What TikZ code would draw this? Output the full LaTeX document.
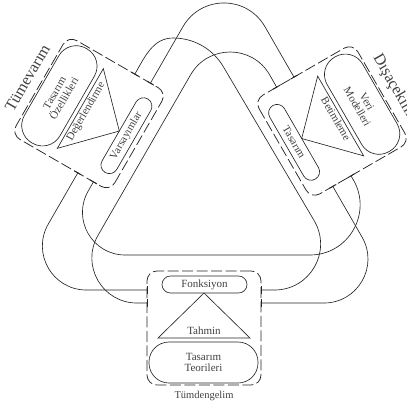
\documentclass[tikz,border=0pt]{standalone}
\usepackage{fontspec}
\setmainfont{Liberation Serif}

% One stage: dashed frame, small pill, triangle, large pill and outer label,
% drawn in the local frame of the enclosing scope.
\newcommand\stagebody[8]{%
  \node[stageframe, transform shape] (#1) at (0,0) {};
  \node[pill, transform shape, rotate=#2] (#1-top) at (0.5,-43.5) {#3};
  \draw[tri] (0,-35) -- (46,10) -- (-46,10) -- cycle;
  \node[tritext, transform shape, rotate=#2] (#1-mid) at (0,3.5) {#4};
  \node[bigpill, transform shape, rotate=#2] (#1-base) at (-0.5,34.5) {#5};
  \node[#7, transform shape, rotate=#2] (#1-label) at (0,#8) {#6};
}

\begin{document}
\begin{tikzpicture}[x=1pt,y=-1pt,
  wire/.style={line width=0.65pt, draw=black!85},
  stageframe/.style={draw=black!85, line width=0.75pt, dash pattern=on 11pt off 3.5pt,
    rounded corners=10pt, minimum width=114pt, minimum height=114pt, inner sep=0pt},
  pill/.style={draw=black!85, line width=0.65pt, rounded corners=8.5pt,
    minimum width=85pt, minimum height=17pt, inner sep=0pt,
    font=\fontsize{11}{12}\selectfont, text=black!75},
  bigpill/.style={draw=black!85, line width=0.65pt, rounded corners=20pt,
    minimum width=109pt, minimum height=41pt, inner sep=0pt, align=center,
    font=\fontsize{11}{11}\selectfont, text=black!75},
  tri/.style={draw=black!85, line width=0.65pt},
  tritext/.style={inner sep=0pt, text height=1.4ex, text depth=0.2ex,
    font=\fontsize{11}{12}\selectfont, text=black!75},
  biglabel/.style={inner sep=0pt, font=\fontsize{16}{17}\selectfont, text=black!75},
  smalllabel/.style={inner sep=0pt, font=\fontsize{10.5}{12}\selectfont, text=black!75},
  endtick/.style={line width=0.9pt, draw=black!85}]

\useasboundingbox (0,0) rectangle (407,405);

% Tümdengelim (bottom)
\begin{scope}[shift={(204,328)}]
  \stagebody{ded}{0}{Fonksiyon}{Tahmin}{Tasarım\\Teorileri}{Tümdengelim}{smalllabel}{68}
  \coordinate (ded-l1) at (-57,-38);
  \coordinate (ded-l2) at (-57,-25);
  \coordinate (ded-r1) at (57,-38);
  \coordinate (ded-r2) at (57,-25);
  \foreach \px/\py in {-57/-38,-57/-25,57/-38,57/-25}
    \draw[endtick] (\px,\py-4) -- (\px,\py+4);
\end{scope}

% Tümevarım (upper left)
\begin{scope}[shift={(89,113.5)}, rotate=-120]
  \stagebody{ind}{180}{Varsayımlar}{Değerlendirme}{Tasarım\\Özellikleri}{Tümevarım}{biglabel}{71}
  \coordinate (ind-a) at (57,-20);
  \coordinate (ind-b) at (57,-38);
  \coordinate (ind-c) at (-57,-20);
  \coordinate (ind-d) at (-57,-38);
  \foreach \px/\py in {57/-20,57/-38,-57/-20,-57/-38}
    \draw[endtick] (\px,\py-4) -- (\px,\py+4);
\end{scope}

% Dışaçekim (upper right)
\begin{scope}[shift={(332,121)}, rotate=120]
  \stagebody{abd}{180}{Tasarım}{Betimleme}{Veri\\Modelleri}{Dışaçekim}{biglabel}{71}
  \coordinate (abd-a) at (-57,-32);
  \coordinate (abd-b) at (-57,-11);
  \coordinate (abd-c) at (57,-31);
  \coordinate (abd-d) at (57,-11);
  \foreach \px/\py in {-57/-32,-57/-11,57/-31,57/-11}
    \draw[endtick] (\px,\py-4) -- (\px,\py+4);
\end{scope}

% connectors
\draw[wire] (ind-a) -- (48.3,224) .. controls (31.4,253.4) and (52.5,290) .. (86.4,290) -- (ded-l1);
\draw[wire] (abd-a) -- (362,237) .. controls (379,266.4) and (357.8,303) .. (323.9,303) -- (ded-r2);
\draw[wire] (ind-b) -- (88.2,191) .. controls (71.8,219.5) and (92.3,255) .. (125.2,255)
  -- (310,255) .. controls (348.5,255) and (372.6,213.2) .. (353.4,179.9) -- (abd-b);
\draw[wire] (abd-c) -- (269.6,74.8) .. controls (252.1,44.4) and (208.1,44.4) .. (190.6,74.8)
  -- (97.9,235.5) .. controls (80.6,265.5) and (102.3,303) .. (136.9,303) -- (ded-l2);
\draw[wire] (ind-c) .. controls (144.8,56.8) and (153,38) .. (173,38)
  .. controls (193.9,38) and (212.8,48.8) .. (223.4,66.8)
  -- (314.1,220.5) .. controls (332.3,251.4) and (310.3,290) .. (274.4,290) -- (ded-r1);
\draw[wire] (ind-d) -- (183,26.6) .. controls (201.2,-4.9) and (246.7,-4.9) .. (264.9,26.6) -- (abd-d);
\end{tikzpicture}
\end{document}
